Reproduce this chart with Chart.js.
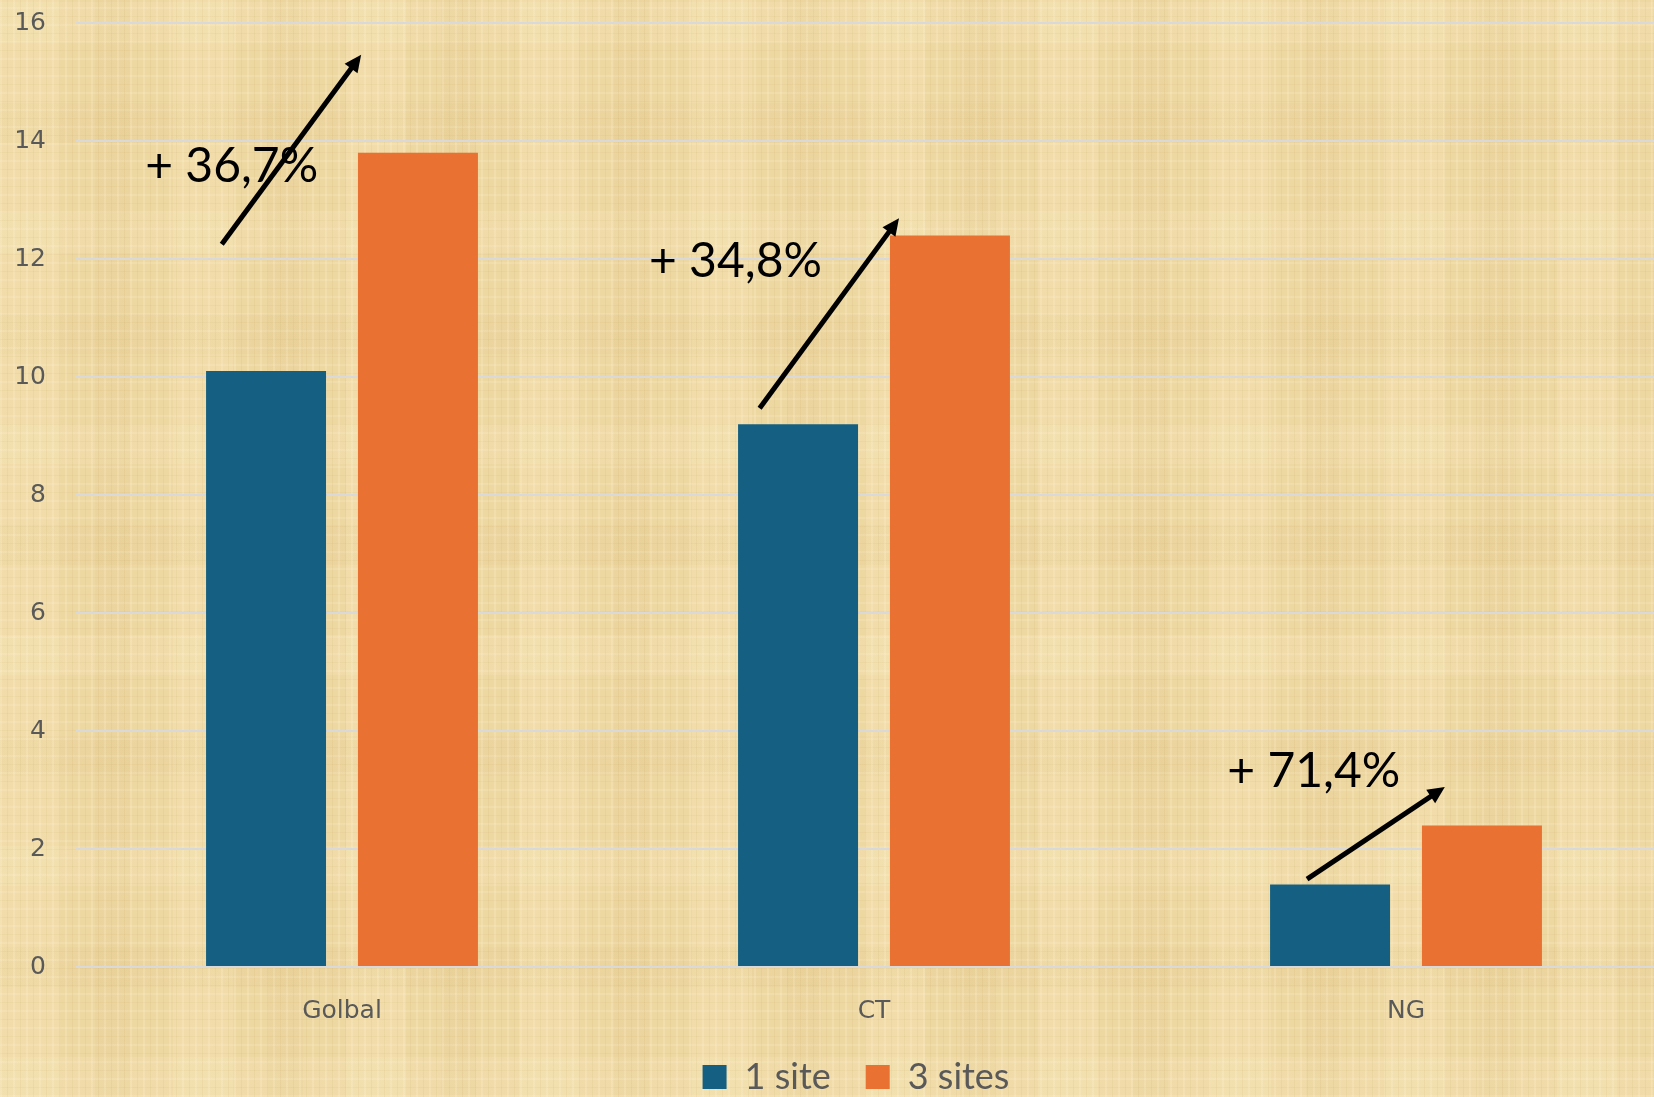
<!DOCTYPE html>
<html>
<head>
<meta charset="utf-8">
<script src="https://cdn.jsdelivr.net/npm/chart.js@4/dist/chart.umd.min.js"></script>
<style>
  html, body { margin: 0; padding: 0; overflow: hidden; }
  #paper {
    position: relative;
    width: 1654px;
    height: 1097px;
    overflow: hidden;
    background-color: #eed8a2;
    background-image:
      repeating-linear-gradient(90deg, rgba(255,246,215,0.20) 0 2px, transparent 2px 7px, rgba(165,125,50,0.07) 7px 8px, transparent 8px 13px),
      repeating-linear-gradient(0deg, rgba(255,246,215,0.16) 0 2px, transparent 2px 9px, rgba(165,125,50,0.06) 9px 10px, transparent 10px 17px),
      repeating-linear-gradient(90deg, rgba(255,242,205,0.18) 0 60px, transparent 60px 95px, rgba(190,150,70,0.05) 95px 130px, transparent 130px 173px),
      repeating-linear-gradient(0deg, rgba(255,242,205,0.14) 0 40px, transparent 40px 110px, rgba(190,150,70,0.05) 110px 150px, transparent 150px 211px);
  }
  #chart { position: absolute; left: 0; top: 0; }
</style>
</head>
<body>
<div id="paper">
  <canvas id="chart" width="1672" height="1105"></canvas>
</div>
<script>
// Categories and series
const categories = ['Golbal', 'CT', 'NG'];
const oneSite = [10.1, 9.2, 1.4];
const threeSites = [13.8, 12.4, 2.4];
const seriesNames = ['1 site', '3 sites'];
const gainLabels = ['+ 36,7%', '+ 34,8%', '+ 71,4%'];

// Value axis
const yMin = 0;
const yMax = 16;
const yStep = 2;

// Growth arrows and their labels, placed in axis units (category index, value)
const growthMarks = [
  { label: { x: -0.370, y: 13.56 }, from: { x: -0.226, y: 12.25 }, to: { x: 0.036, y: 15.46 } },
  { label: { x: 0.577, y: 11.95 }, from: { x: 0.785, y: 9.47 }, to: { x: 1.047, y: 12.69 } },
  { label: { x: 1.664, y: 3.31 }, from: { x: 1.814, y: 1.49 }, to: { x: 2.073, y: 3.05 } }
];

const growthPlugin = {
  id: 'growthArrows',
  afterLayout(chart) {
    // centre the legend row under the plot rather than the canvas
    chart.legend.left += 20;
    chart.legend.right += 20;
  },
  afterDatasetsDraw(chart) {
    const { ctx, scales: { x, y } } = chart;
    ctx.save();
    growthMarks.forEach((m, i) => {
      const x1 = x.getPixelForValue(m.from.x), y1 = y.getPixelForValue(m.from.y);
      const x2 = x.getPixelForValue(m.to.x), y2 = y.getPixelForValue(m.to.y);
      const ang = Math.atan2(y2 - y1, x2 - x1);
      const headLen = 17, headHalf = 8;
      const bx = x2 - headLen * Math.cos(ang), by = y2 - headLen * Math.sin(ang);
      ctx.strokeStyle = '#000';
      ctx.fillStyle = '#000';
      ctx.lineWidth = 5;
      ctx.lineCap = 'butt';
      ctx.beginPath();
      ctx.moveTo(x1, y1);
      ctx.lineTo(bx + 2 * Math.cos(ang), by + 2 * Math.sin(ang));
      ctx.stroke();
      ctx.beginPath();
      ctx.moveTo(x2, y2);
      ctx.lineTo(bx + headHalf * Math.sin(ang), by - headHalf * Math.cos(ang));
      ctx.lineTo(bx - headHalf * Math.sin(ang), by + headHalf * Math.cos(ang));
      ctx.closePath();
      ctx.fill();

      ctx.font = '48px Lato, "Open Sans", sans-serif';
      ctx.textAlign = 'left';
      ctx.textBaseline = 'middle';
      ctx.fillText(gainLabels[i], x.getPixelForValue(m.label.x), y.getPixelForValue(m.label.y));
    });
    ctx.restore();
  }
};

new Chart(document.getElementById('chart'), {
  type: 'bar',
  data: {
    labels: categories,
    datasets: [
      { label: seriesNames[0], data: oneSite, backgroundColor: '#156082', borderWidth: 0 },
      { label: seriesNames[1], data: threeSites, backgroundColor: '#e97132', borderWidth: 0 }
    ]
  },
  options: {
    responsive: false,
    animation: false,
    devicePixelRatio: 1,
    categoryPercentage: 0.571,
    barPercentage: 0.79,
    layout: { padding: 0 },
    plugins: {
      tooltip: { enabled: false },
      legend: {
        position: 'bottom',
        labels: {
          boxWidth: 24,
          boxHeight: 24,
          padding: 35,
          color: '#595959',
          font: { family: 'Lato, "Open Sans", sans-serif', size: 36 }
        }
      }
    },
    scales: {
      x: {
        afterFit(scale) { scale.height = 57; scale.paddingLeft = 0; scale.paddingRight = 0; },
        grid: { display: false, drawTicks: false },
        border: { display: false },
        ticks: { color: '#595959', padding: 29, font: { family: '"DejaVu Sans"', size: 25 } }
      },
      y: {
        min: yMin,
        max: yMax,
        afterFit(scale) { scale.width = 76; scale.paddingTop = 23; scale.paddingBottom = 0; },
        grid: { color: '#d9d9d9', lineWidth: 2, drawTicks: false },
        border: { display: false },
        ticks: { stepSize: yStep, color: '#595959', padding: 30, font: { family: '"DejaVu Sans"', size: 25 } }
      }
    }
  },
  plugins: [growthPlugin]
});
</script>
</body>
</html>
